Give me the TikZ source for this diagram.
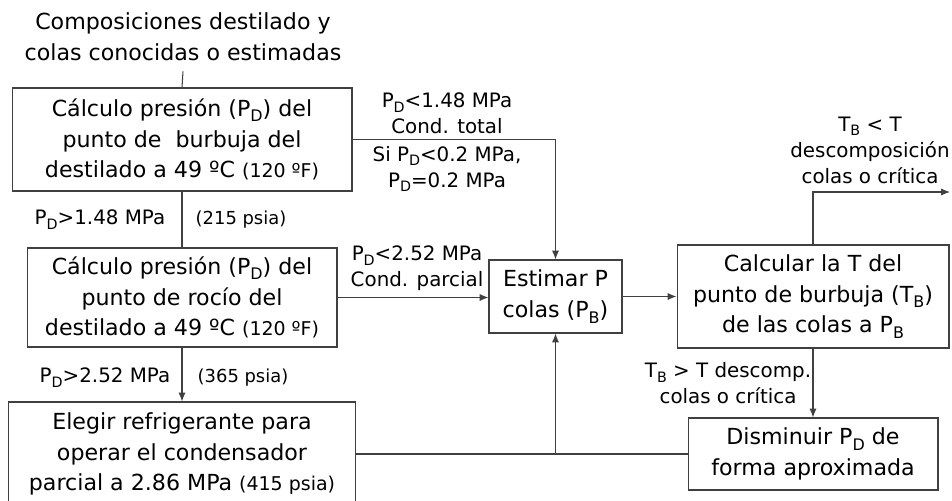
\documentclass[tikz,border=0pt]{standalone}
\usepackage{fontspec}
\setmainfont{DejaVu Sans}
\usetikzlibrary{arrows.meta, calc, positioning}

\newcommand{\bajo}[1]{\raisebox{-0.45ex}{\scalebox{0.72}{#1}}}
\newcommand{\Pd}{P\bajo{D}}
\newcommand{\Pb}{P\bajo{B}}
\newcommand{\Tb}{T\bajo{B}}
\newcommand{\menor}[1]{{\fontsize{10.8}{17}\selectfont#1}}

\begin{document}
\begin{tikzpicture}[x=0.02cm, y=-0.02cm,
  caja/.style={draw=black!75, line width=0.6pt, align=center, inner sep=0pt,
    font=\fontsize{12.6}{17.5}\selectfont},
  etiq/.style={align=center, inner sep=0pt, font=\fontsize{11.3}{14.8}\selectfont},
  chico/.style={inner sep=0pt, font=\fontsize{10.2}{12}\selectfont},
  linea/.style={draw=black!75, line width=0.6pt},
  flecha/.style={linea, -{Latex[length=5pt, width=4pt]}}]
\useasboundingbox (0,0) rectangle (952,500);
% Cajas
\node[align=center, inner sep=0pt, outer ysep=6pt, font=\fontsize{12.6}{17.5}\selectfont] (datos) at (183,37)
  {Composiciones destilado y\\colas conocidas o estimadas};
\node[caja, minimum width=6.8cm, minimum height=2.06cm] (burbuja) at (182,139.5)
  {Cálculo presión (\Pd) del\\punto de~ burbuja del\\destilado a 49 ºC \menor{(120 ºF)}};
\node[caja, minimum width=6.2cm, minimum height=1.98cm] (rocio) at (182,297.5)
  {Cálculo presión (\Pd) del\\punto de rocío del\\destilado a 49 ºC \menor{(120 ºF)}};
\node[caja, minimum width=6.96cm, minimum height=2.08cm] (refrig) at (182,454)
  {Elegir refrigerante para\\operar el condensador\\parcial a 2.86 MPa \menor{(415 psia)}};
\node[caja, minimum width=2.66cm, minimum height=1.46cm] (estimar) at (555.5,296.5)
  {Estimar P\\colas (\Pb)};
\node[caja, minimum width=5.44cm, minimum height=2.06cm] (calcular) at (813,296.5)
  {Calcular la T del\\punto de burbuja (\Tb)\\de las colas a \Pb};
\node[caja, minimum width=5cm, minimum height=1.44cm] (disminuir) at (813,454)
  {Disminuir \Pd{} de\\forma aproximada};
\coordinate (salida) at (950,192);
% Conectores
\draw[linea] (datos.south) -- (burbuja.north);
\draw[flecha] (burbuja.east) -| (estimar.north);
\draw[linea] (burbuja.south) -- (rocio.north);
\draw[flecha] (rocio.east) -- (rocio.east -| estimar.west);
\draw[flecha] (rocio.south) -- (refrig.north);
\draw[flecha] (estimar.east) -- (estimar.east -| calcular.west);
\draw[flecha] (calcular.north) |- (salida);
\draw[flecha] (calcular.south) -- (disminuir.north);
\draw[linea] (disminuir.west) -- (disminuir.west -| refrig.east);
\draw[flecha] (disminuir.west -| estimar.south) -- (estimar.south);
% Etiquetas
\node[etiq] (total) at (447,113) {\Pd<1.48 MPa\\Cond. total};
\node[etiq] (minimo) at (447,169) {Si \Pd<0.2 MPa,\\\Pd=0.2 MPa};
\node[etiq] (mayor1) at (100,220) {\Pd>1.48 MPa};
\node[chico] (psia1) at (241,220) {(215 psia)};
\node[etiq] (parcial) at (417,268) {\Pd<2.52 MPa\\Cond. parcial};
\node[etiq] (mayor2) at (105,378) {\Pd>2.52 MPa};
\node[chico] (psia2) at (243,378) {(365 psia)};
\node[etiq] (critica) at (870,150) {\Tb{} < T\\descomposición\\colas o crítica};
\node[etiq] (descomp) at (728,383) {\Tb{} > T descomp.\\colas o crítica};
\end{tikzpicture}
\end{document}
